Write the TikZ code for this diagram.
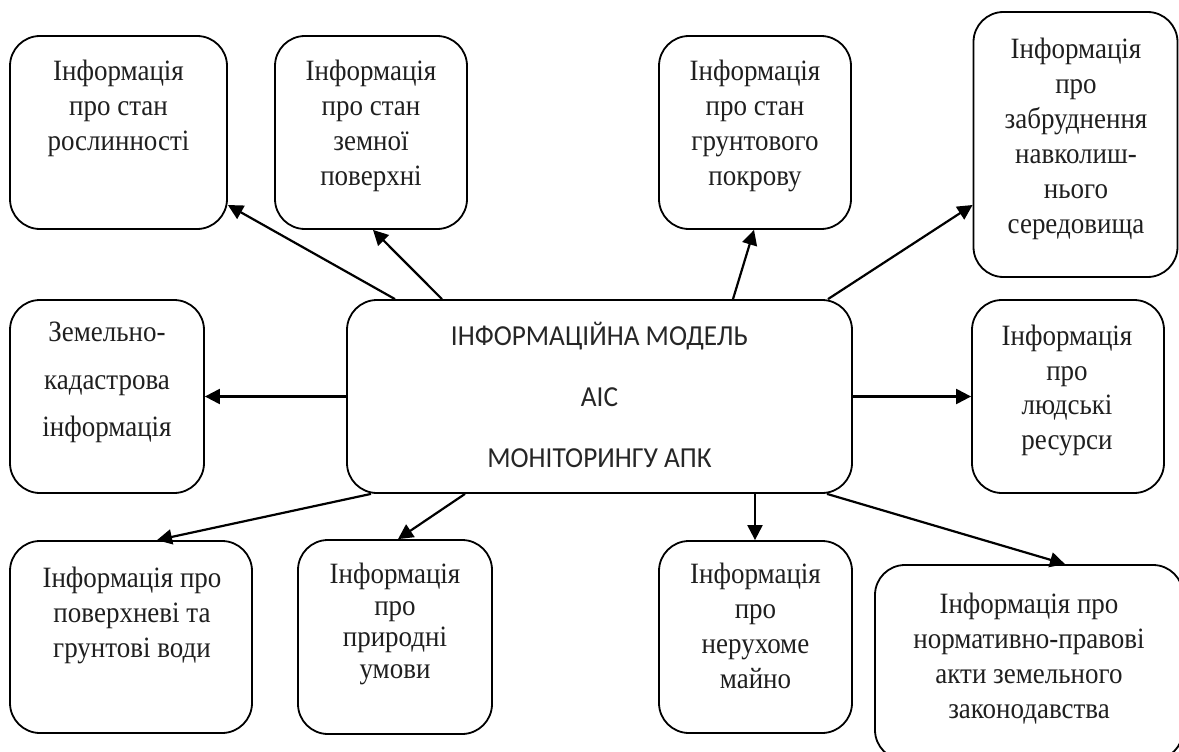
\documentclass[tikz,border=0pt]{standalone}
\usepackage{fontspec}
\setmainfont{Liberation Serif}[FakeStretch=0.915]
\newfontfamily\calfont{Carlito}[FakeStretch=0.94]
\usetikzlibrary{arrows.meta}
\tikzset{
  box/.style={draw, line width=1.8pt, rounded corners=30pt, inner sep=0pt},
  txt/.style={align=center, inner sep=0pt, anchor=north, text=black!88, font=\fontsize{29.5}{35}\selectfont},
  arr/.style={line width=2.2pt, -{Triangle[length=15pt,width=15pt]}}
}
\begin{document}
\begin{tikzpicture}[x=1pt,y=-1pt]
\useasboundingbox (0,0) rectangle (1179,752);
% boxes
\node[box, minimum width=217pt, minimum height=193pt] (b1) at (118.5,132.5) {};
\node[box, minimum width=192pt, minimum height=193pt] (b2) at (371,132.5) {};
\node[box, minimum width=192pt, minimum height=193pt] (b3) at (755,132.5) {};
\node[box, minimum width=204pt, minimum height=265pt] (b4) at (1075.5,144.5) {};
\node[box, minimum width=194pt, minimum height=193pt] (b5) at (107,396.5) {};
\node[box, minimum width=505pt, minimum height=193pt] (c) at (599.5,396.5) {};
\node[box, minimum width=192pt, minimum height=193pt] (b6) at (1068,396.5) {};
\node[box, minimum width=242pt, minimum height=192pt] (b7) at (131,637) {};
\node[box, minimum width=194pt, minimum height=194pt] (b8) at (395,637) {};
\node[box, minimum width=193pt, minimum height=192pt] (b9) at (755.5,637) {};
\node[box, minimum width=308pt, minimum height=195pt] (b10) at (1029,662.5) {};
% texts
\node[txt] (t1) at (118.5,59.9) {Інформація\\про стан\\рослинності};
\node[txt] (t2) at (371,59.9) {Інформація\\про стан\\земної\\поверхні};
\node[txt] (t3) at (755,59.9) {Інформація\\про стан\\грунтового\\покрову};
\node[txt] (t4) at (1076,37.9) {Інформація\\про\\забруднення\\навколиш-\\нього\\середовища};
\node[txt, font=\fontsize{29.5}{47.5}\selectfont] (t5) at (107,321.9) {Земельно-\\кадастрова\\інформація};
\node[txt, font=\fontsize{29.5}{34.5}\selectfont] (t6) at (1067,324.9) {Інформація\\про\\людські\\ресурси};
\node[txt] (t7) at (132,566.9) {Інформація про\\поверхневі та\\грунтові води};
\node[txt, font=\fontsize{29.5}{31.7}\selectfont] (t8) at (395,562.9) {Інформація\\про\\природні\\умови};
\node[txt] (t9) at (755.5,562.9) {Інформація\\про\\нерухоме\\майно};
\node[txt] (t10) at (1029,592.4) {Інформація про\\нормативно-правові\\акти земельного\\законодавства};
\node[align=center, inner sep=0pt, anchor=south, font=\calfont\fontsize{29}{61}\selectfont, text=black!85] (tc) at (599.5,468) {ІНФОРМАЦІЙНА МОДЕЛЬ\\АІС\\МОНІТОРИНГУ АПК};
% connectors
\draw[arr] (c.north -| 395,0) -- (b1.east |- 0,205);
\draw[arr] (c.north -| 442,0) -- (b2.south -| 373,0);
\draw[arr] (c.north -| 733,0) -- (b3.south -| 754,0);
\draw[arr] (c.north -| 828,0) -- (b4.west |- 0,205);
\draw[arr] (c.west) -- (b5.east);
\draw[arr] (c.east) -- (b6.west);
\draw[arr] (c.south -| 371,0) -- (b7.north -| 157,0);
\draw[arr] (c.south -| 465,0) -- (b8.north -| 398,0);
\draw[arr] (c.south -| 755,0) -- (b9.north -| 755,0);
\draw[arr] (c.south -| 827,0) -- (b10.north -| 1065,0);
\end{tikzpicture}
\end{document}
